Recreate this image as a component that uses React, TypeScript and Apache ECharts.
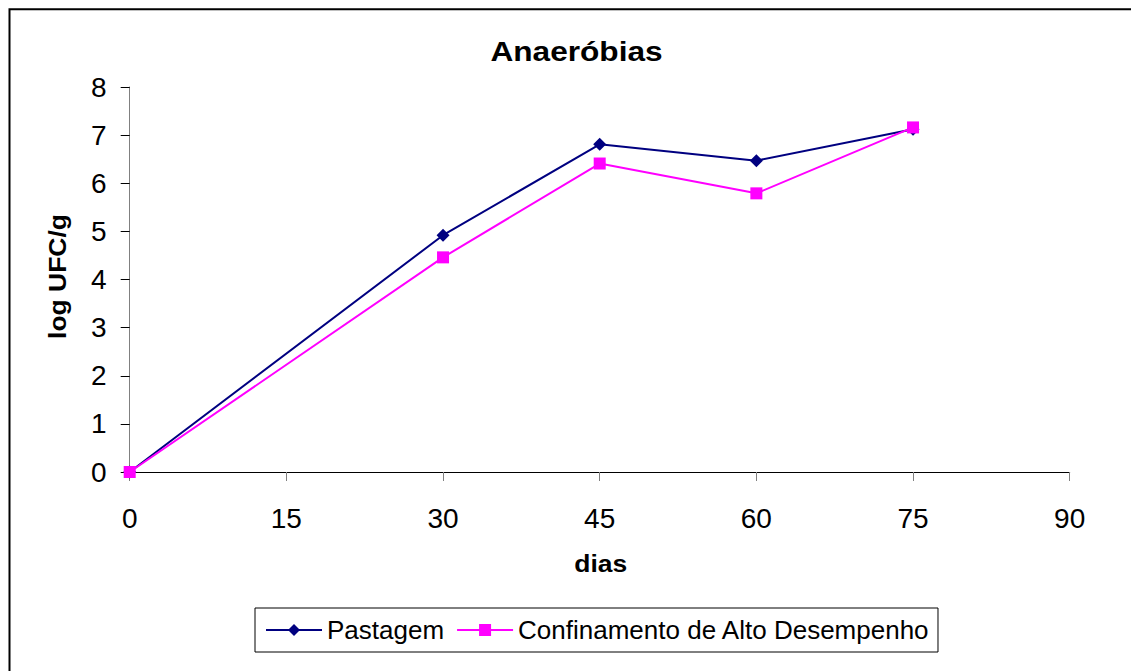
import React, { useEffect, useRef } from "react";
import * as echarts from "echarts";

const titleText = "Anaeróbias";
const xAxisName = "dias";
const yAxisName = "log UFC/g";
const seriesNames = ["Pastagem", "Confinamento de Alto Desempenho"];
const days = [0, 30, 45, 60, 75];
const pastagem = [0, 4.92, 6.81, 6.47, 7.12];
const confinamento = [0, 4.46, 6.41, 5.79, 7.16];
const xMin = 0;
const xMax = 90;
const xInterval = 15;
const yMin = 0;
const yMax = 8;
const yInterval = 1;

const FONT = "Arial, 'Liberation Sans', Helvetica, sans-serif";

export default function App() {
  const ref = useRef<HTMLDivElement>(null);

  useEffect(() => {
    if (!ref.current) return;
    document.documentElement.style.overflow = "hidden";
    document.body.style.overflow = "hidden";
    const chart = echarts.init(ref.current, undefined, { renderer: "svg" });
    const pair = (vals: number[]) => days.map((d, i) => [d, vals[i]]);
    chart.setOption({
      animation: false,
      backgroundColor: "#ffffff",
      textStyle: { fontFamily: FONT },
      grid: { left: 129.7, right: 61.3, top: 87, bottom: 199, containLabel: false },
      xAxis: {
        type: "value",
        min: xMin,
        max: xMax,
        interval: xInterval,
        axisLine: { show: true, onZero: false, lineStyle: { color: "#000000", width: 1 } },
        axisTick: { show: true, length: 9, lineStyle: { color: "#808080" } },
        axisLabel: { fontSize: 28, color: "#000000", margin: 32, fontFamily: FONT },
        splitLine: { show: false },
      },
      yAxis: {
        type: "value",
        min: yMin,
        max: yMax,
        interval: yInterval,
        axisLine: { show: true, lineStyle: { color: "#808080", width: 1 } },
        axisTick: { show: true, length: 9, lineStyle: { color: "#000000" } },
        axisLabel: { fontSize: 28, color: "#000000", margin: 23, fontFamily: FONT },
        splitLine: { show: false },
      },
      legend: {
        data: seriesNames,
        left: 255,
        top: 608,
        orient: "horizontal",
        itemWidth: 56,
        itemHeight: 15,
        itemGap: 12,
        borderColor: "#000000",
        borderWidth: 1,
        padding: [8, 8, 8, 10],
        backgroundColor: "#ffffff",
        textStyle: { fontSize: 26, color: "#000000", fontFamily: FONT, lineHeight: 28 },
      },
      series: [
        {
          name: seriesNames[0],
          type: "line",
          data: pair(pastagem),
          symbol: "diamond",
          symbolSize: 13,
          lineStyle: { color: "#000080", width: 2 },
          itemStyle: { color: "#000080" },
          z: 2,
        },
        {
          name: seriesNames[1],
          type: "line",
          data: pair(confinamento),
          symbol: "rect",
          symbolSize: 12,
          lineStyle: { color: "#FF00FF", width: 2 },
          itemStyle: { color: "#FF00FF" },
          z: 3,
        },
      ],
      graphic: [
        {
          type: "rect",
          shape: { x: 9.5, y: 9.3, width: 1300, height: 800 },
          style: { fill: "none", stroke: "#000000", lineWidth: 2 },
          silent: true,
        },
        {
          type: "text",
          x: 576.5,
          y: 51.5,
          scaleX: 1.13,
          style: {
            text: titleText,
            fontSize: 28,
            fontWeight: "bold",
            fontFamily: FONT,
            fill: "#000000",
            align: "center",
            verticalAlign: "middle",
          },
          silent: true,
        },
        {
          type: "text",
          x: 58,
          y: 276.5,
          rotation: Math.PI / 2,
          scaleX: 1.15,
          style: {
            text: yAxisName,
            fontSize: 23,
            fontWeight: "bold",
            fontFamily: FONT,
            fill: "#000000",
            align: "center",
            verticalAlign: "middle",
          },
          silent: true,
        },
        {
          type: "text",
          x: 600.8,
          y: 564,
          scaleX: 1.15,
          style: {
            text: xAxisName,
            fontSize: 23,
            fontWeight: "bold",
            fontFamily: FONT,
            fill: "#000000",
            align: "center",
            verticalAlign: "middle",
          },
          silent: true,
        },
      ],
    });
    return () => chart.dispose();
  }, []);

  return (
    <div
      ref={ref}
      style={{ position: "fixed", left: 0, top: 0, width: 1131, height: 671 }}
    />
  );
}
